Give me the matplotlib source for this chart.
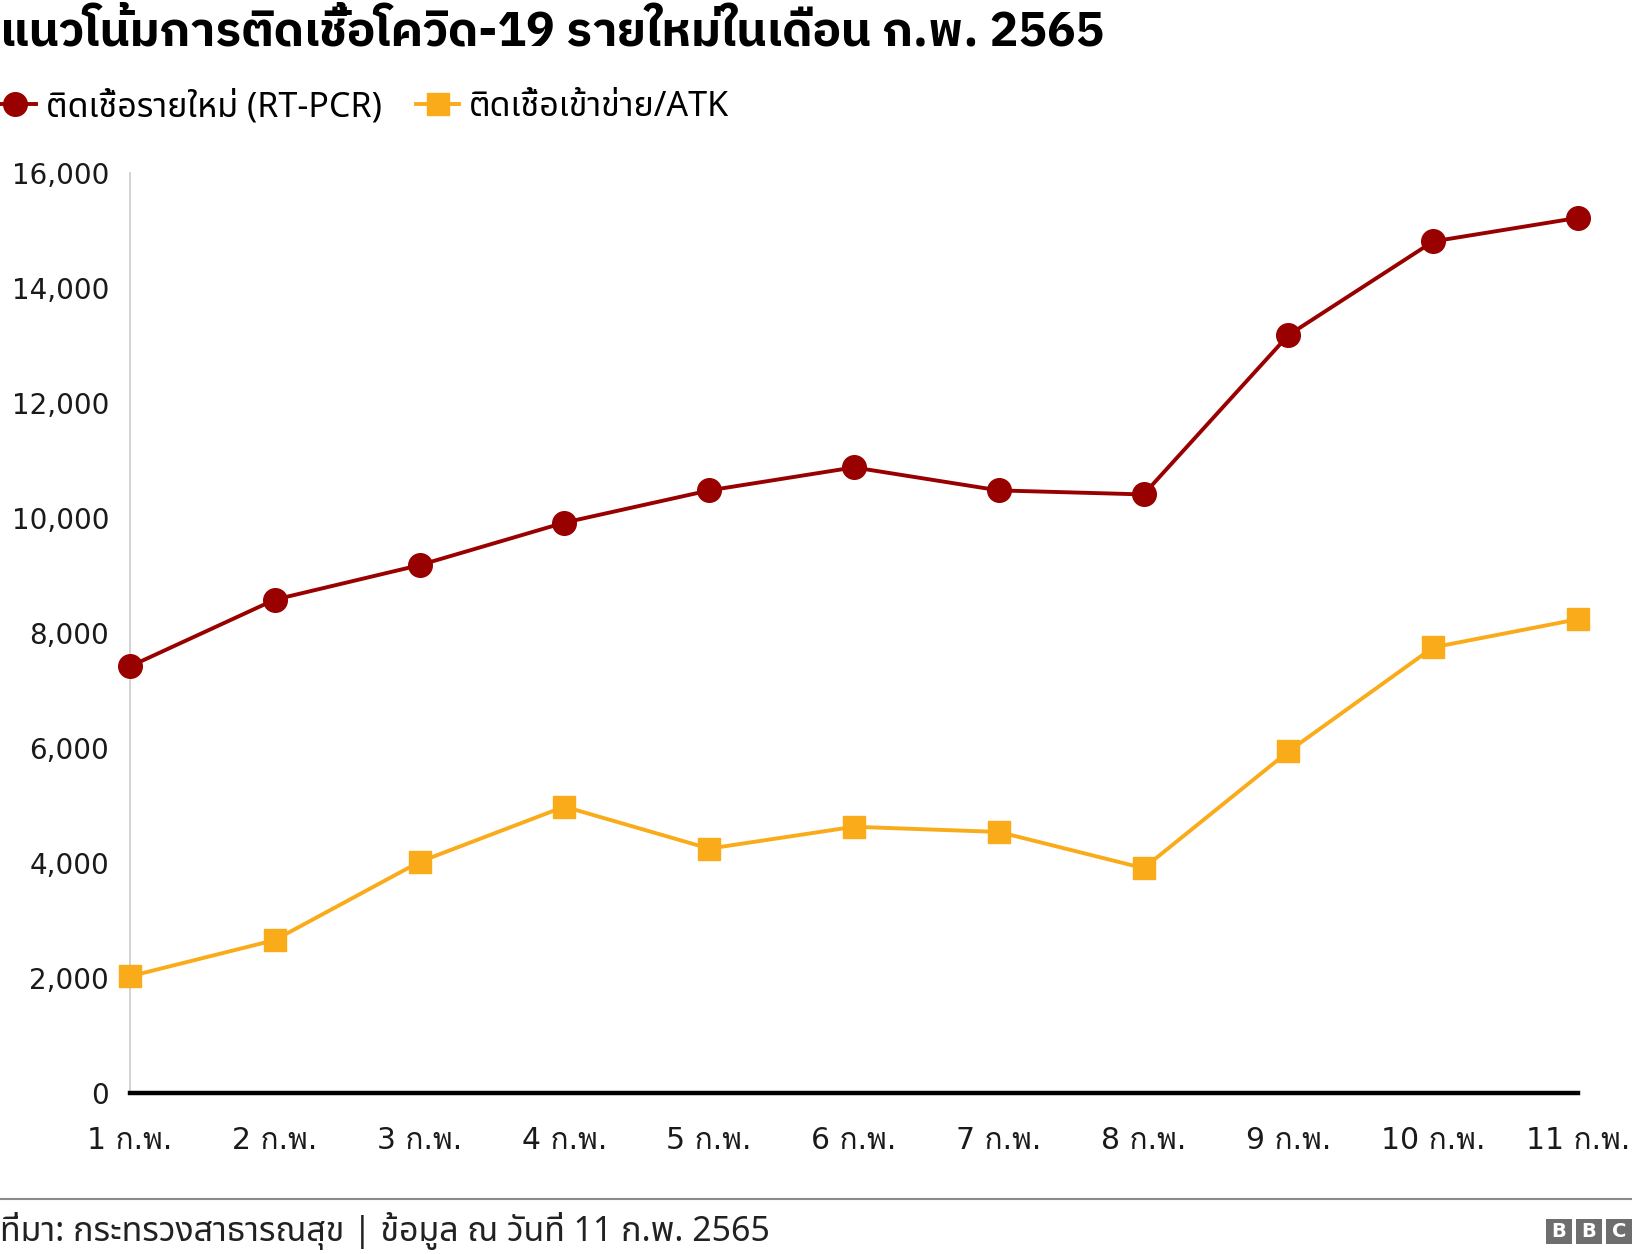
import matplotlib
matplotlib.use("Agg")
import matplotlib.pyplot as plt
from matplotlib.lines import Line2D
from matplotlib.patches import Rectangle
from matplotlib.ticker import FuncFormatter

# ---- data ----
dates = ["1 ก.พ.", "2 ก.พ.", "3 ก.พ.", "4 ก.พ.", "5 ก.พ.", "6 ก.พ.",
         "7 ก.พ.", "8 ก.พ.", "9 ก.พ.", "10 ก.พ.", "11 ก.พ."]
rtpcr = [7420, 8580, 9180, 9920, 10480, 10880, 10480, 10410, 13180, 14810, 15220]
atk = [2030, 2660, 4020, 4980, 4250, 4630, 4540, 3910, 5940, 7750, 8240]
series_names = ["ติดเชื้อรายใหม่ (RT-PCR)", "ติดเชื้อเข้าข่าย/ATK"]
yticks = [0, 2000, 4000, 6000, 8000, 10000, 12000, 14000, 16000]
title = "แนวโน้มการติดเชื้อโควิด-19 รายใหม่ในเดือน ก.พ. 2565"
source = "ที่มา: กระทรวงสาธารณสุข | ข้อมูล ณ วันที่ 11 ก.พ. 2565"

RED = "#990000"
YEL = "#FAAB19"

TICK_FONT = ["DejaVu Sans", "Loma"]
UI_FONT = ["Noto Sans Thai", "DejaVu Sans"]
TITLE_FONT = ["IBM Plex Sans Thai", "DejaVu Sans"]

W, H = 1632, 1254
fig = plt.figure(figsize=(W / 100, H / 100), dpi=100)

left, right = 130 / W, 1578 / W
top, bottom = 1 - 173 / H, 1 - 1093 / H
ax = fig.add_axes([left, bottom, right - left, top - bottom])

LW = 2.8
x = list(range(len(dates)))
ax.plot(x, rtpcr, color=RED, lw=LW, marker="o", ms=17, mec=RED, mfc=RED,
        label=series_names[0], zorder=3, clip_on=False)
ax.plot(x, atk, color=YEL, lw=LW, marker="s", ms=16.5, mec=YEL, mfc=YEL,
        label=series_names[1], zorder=3, clip_on=False)

ax.set_xlim(0, len(dates) - 1)
ax.set_ylim(0, 16000)
ax.set_yticks(yticks)
ax.yaxis.set_major_formatter(FuncFormatter(lambda v, p: f"{int(v):,}"))
ax.set_xticks(x)
ax.set_xticklabels(dates)

for s in ["top", "right"]:
    ax.spines[s].set_visible(False)
ax.spines["left"].set_color("#cccccc")
ax.spines["left"].set_linewidth(1.2)
ax.spines["bottom"].set_color("black")
ax.spines["bottom"].set_linewidth(3.2)
ax.spines["bottom"].set_zorder(4)

ax.tick_params(axis="both", length=0)
ax.tick_params(axis="y", pad=15)
ax.tick_params(axis="x", pad=24)
for lab in ax.get_yticklabels():
    lab.set_family(TICK_FONT)
    lab.set_fontsize(20)
    lab.set_color("#1a1a1a")
for lab in ax.get_xticklabels():
    lab.set_family(TICK_FONT)
    lab.set_fontsize(21.5)
    lab.set_color("#1a1a1a")

# title
fig.text(0, 1 - 32 / H, title, family=TITLE_FONT, fontsize=34.4, fontweight="bold",
         ha="left", va="center", color="black")

# legend
handles = [
    Line2D([], [], color=RED, lw=LW, marker="o", ms=17, mec=RED, mfc=RED),
    Line2D([], [], color=YEL, lw=LW, marker="s", ms=16.5, mec=YEL, mfc=YEL),
]
fig.legend(handles, series_names, loc="center left",
           bbox_to_anchor=(-0.004, 1 - 107 / H), ncol=2, frameon=False,
           prop={"family": UI_FONT, "size": 24.5}, handlelength=1.25,
           handletextpad=0.3, columnspacing=1.0, borderpad=0, borderaxespad=0)

# footer
fig.add_artist(Line2D([0, 1], [1 - 1199 / H, 1 - 1199 / H], transform=fig.transFigure,
                      color="#8a8a8a", lw=1.5))
fig.text(0, 1 - 1231 / H, source, family=UI_FONT, fontsize=24.4,
         ha="left", va="center", color="#222222")

# BBC logo
bw, bh, gap = 26 / W, 25 / H, 4 / W
x0 = 1 - 3 * bw - 2 * gap
y0 = 1 - 1244 / H
for i, ch in enumerate("BBC"):
    xi = x0 + i * (bw + gap)
    fig.add_artist(Rectangle((xi, y0), bw, bh, transform=fig.transFigure,
                             facecolor="#6e6e6e", edgecolor="none"))
    fig.text(xi + bw / 2, y0 + bh / 2, ch, ha="center", va="center",
             color="white", fontsize=14, fontweight="bold", family="DejaVu Sans")

fig.savefig("out.png", dpi=100)
